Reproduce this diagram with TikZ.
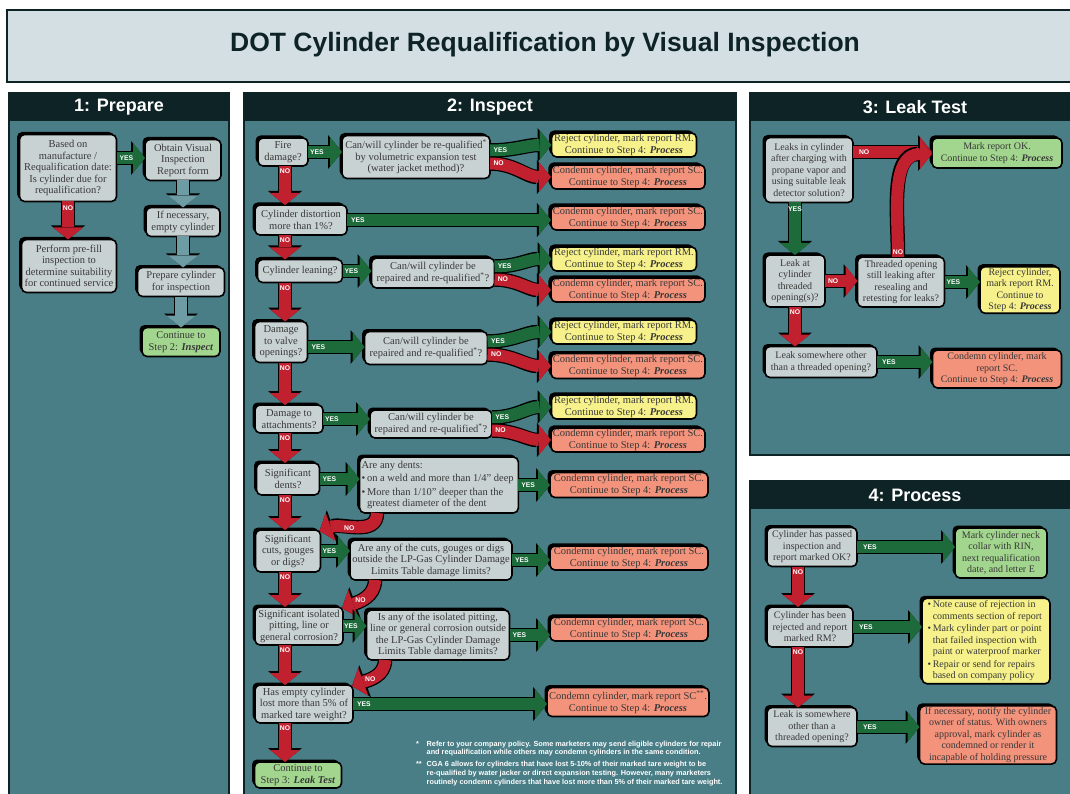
\documentclass[tikz,border=0pt]{standalone}
\usepackage{fontspec}
\setmainfont{Liberation Serif}
\setsansfont{Liberation Sans}
\usepackage{tikz}
\usetikzlibrary{calc,arrows.meta,shadows}

\definecolor{panelteal}{HTML}{4A7E87}
\definecolor{headdark}{HTML}{0E2325}
\definecolor{titlefill}{HTML}{D3DFE3}
\definecolor{qgray}{HTML}{C9D2D2}
\definecolor{rejyellow}{HTML}{F6F18A}
\definecolor{consalmon}{HTML}{F4937C}
\definecolor{okgreen}{HTML}{A2D68E}
\definecolor{yesgreen}{HTML}{1D6B3B}
\definecolor{nored}{HTML}{C1202F}
\definecolor{stepblue}{HTML}{6E9CA5}
\definecolor{boxtext}{HTML}{383838}

\begin{document}
\begin{tikzpicture}[x=1pt,y=-1pt,inner sep=0pt,outer sep=0pt,
    box/.style={draw=black,line width=1.6pt,rounded corners=5pt,align=center,
        inner xsep=2pt,inner ysep=1.5pt,text=boxtext,
        font=\fontsize{10.5}{11.5}\selectfont,
        general shadow={fill=black,shadow xshift=-2.5pt,shadow yshift=2.5pt}},
    smalltxt/.style={font=\fontsize{10}{11.5}\selectfont},
    qbox/.style={box,fill=qgray},
    rejbox/.style={box,fill=rejyellow},
    conbox/.style={box,fill=consalmon},
    okbox/.style={box,fill=okgreen},
    blockarr/.style={line width=12pt,-{Triangle[length=12pt,width=30pt,line width=0pt]},
        preaction={draw=black,line width=14.5pt,-{Triangle[length=14pt,width=34pt,line width=0pt]}}},
    yesarr/.style={blockarr,draw=yesgreen},
    noarr/.style={blockarr,draw=nored},
    steparr/.style={blockarr,draw=stepblue},
    lbl/.style={font=\sffamily\bfseries\fontsize{6.8}{7}\selectfont,text=white},
    panel/.style={fill=panelteal,draw=headdark,line width=1.5pt},
    panelhead/.style={fill=headdark},
    headtxt/.style={font=\sffamily\bfseries\fontsize{18}{20}\selectfont,text=white}]

    \useasboundingbox (0,0) rectangle (1070,794);
    \fill[white] (0,0) rectangle (1070,794);

    % title
    \draw[fill=titlefill,draw=headdark,line width=2pt] (7,10) rectangle (1080,82);
    \node[font=\sffamily\bfseries\fontsize{26.5}{28}\selectfont,text=headdark] (title) at (545,45)
    {DOT Cylinder Requalification by Visual Inspection};

    % panels
    \draw[panel] (9,93) rectangle (229,800);
    \fill[panelhead] (9,93) rectangle (229,121);
    \node[headtxt] (prep_head) at (119,107) {1: Prepare};

    \draw[panel] (244,93) rectangle (736,800);
    \fill[panelhead] (244,93) rectangle (736,121);
    \node[headtxt] (insp_head) at (490,107) {2: Inspect};

    \draw[panel] (750,93) rectangle (1080,455);
    \fill[panelhead] (750,93) rectangle (1080,121);
    \node[headtxt] (leak_head) at (915,107) {3: Leak Test};

    \draw[panel] (750,481) rectangle (1080,800);
    \fill[panelhead] (750,481) rectangle (1080,509);
    \node[headtxt] (proc_head) at (915,495) {4: Process};

    % 1: prepare
    \node[qbox,minimum width=97pt,minimum height=67pt] (prep_due) at (68,168)
    {Based on\\manufacture /\\Requalification date:\\Is cylinder due for\\requalification?};
    \node[qbox,minimum width=95pt,minimum height=53pt] (prep_prefill) at (69,266)
    {Perform pre-fill\\inspection to\\determine suitability\\for continued service};
    \node[qbox,minimum width=76pt,minimum height=41pt] (prep_form) at (183,160)
    {Obtain Visual\\Inspection\\Report form};
    \node[qbox,minimum width=74pt,minimum height=29pt] (prep_empty) at (183,222)
    {If necessary,\\empty cylinder};
    \node[qbox,minimum width=87pt,minimum height=29pt] (prep_ready) at (181,282)
    {Prepare cylinder\\for inspection};
    \node[okbox,minimum width=78pt,minimum height=29pt] (prep_next) at (181,342)
    {Continue to\\Step 2: \textbf{\textit{Inspect}}};

    \draw[yesarr] ([yshift=10pt]prep_due.east) -- node[lbl,pos=0,anchor=west,xshift=3pt]{YES}
        ([yshift=10pt]prep_due.east -| prep_form.west);
    \draw[noarr] (prep_due.south) -- node[lbl,pos=0,anchor=north,yshift=-4pt]{NO}
        (prep_due.south |- prep_prefill.north);
    \draw[steparr] (prep_form.south) -- (prep_form.south |- prep_empty.north);
    \draw[steparr] (prep_empty.south) -- (prep_empty.south |- prep_ready.north);
    \draw[steparr] (prep_ready.south) -- (prep_ready.south |- prep_next.north);

    % 2: inspect
    \coordinate (insp_col) at (285,0);
    \node[qbox,minimum width=50pt,minimum height=28pt] (insp_fire) at (283,152) {Fire\\damage?};
    \node[qbox,minimum width=148pt,minimum height=43pt] (insp_fire_q) at (416,157)
    {Can/will cylinder be re-qualified\textsuperscript{*}\\by volumetric expansion test\\(water jacket method)?};
    \node[rejbox,minimum width=145pt,minimum height=24pt] (insp_fire_rej) at (624,145)
    {Reject cylinder, mark report RM.\\Continue to Step 4: \textbf{\textit{Process}}};
    \node[conbox,minimum width=153pt,minimum height=23pt] (insp_fire_con) at (628,177)
    {Condemn cylinder, mark report SC.\\Continue to Step 4: \textbf{\textit{Process}}};

    \node[qbox,minimum width=92pt,minimum height=30pt] (insp_dist) at (301,220)
    {Cylinder distortion\\more than 1\%?};
    \node[conbox,minimum width=153pt,minimum height=23pt] (insp_dist_con) at (628,218)
    {Condemn cylinder, mark report SC.\\Continue to Step 4: \textbf{\textit{Process}}};

    \node[qbox,minimum width=85pt,minimum height=23pt] (insp_lean) at (300,271) {Cylinder leaning?};
    \node[qbox,minimum width=123pt,minimum height=30pt] (insp_lean_q) at (433,273)
    {Can/will cylinder be\\repaired and re-qualified\textsuperscript{*}?};
    \node[rejbox,minimum width=145pt,minimum height=24pt] (insp_lean_rej) at (624,259)
    {Reject cylinder, mark report RM.\\Continue to Step 4: \textbf{\textit{Process}}};
    \node[conbox,minimum width=153pt,minimum height=24pt] (insp_lean_con) at (628,290)
    {Condemn cylinder, mark report SC.\\Continue to Step 4: \textbf{\textit{Process}}};

    \node[qbox,minimum width=53pt,minimum height=41pt] (insp_valve) at (281,342)
    {Damage\\to valve\\openings?};
    \node[qbox,minimum width=123pt,minimum height=33pt] (insp_valve_q) at (426,348)
    {Can/will cylinder be\\repaired and re-qualified\textsuperscript{*}?};
    \node[rejbox,minimum width=145pt,minimum height=23pt] (insp_valve_rej) at (624,332)
    {Reject cylinder, mark report RM.\\Continue to Step 4: \textbf{\textit{Process}}};
    \node[conbox,minimum width=153pt,minimum height=25pt] (insp_valve_con) at (628,366)
    {Condemn cylinder, mark report SC.\\Continue to Step 4: \textbf{\textit{Process}}};

    \node[qbox,minimum width=68pt,minimum height=28pt] (insp_att) at (289,419)
    {Damage to\\attachments?};
    \node[qbox,minimum width=122pt,minimum height=28pt] (insp_att_q) at (431,424)
    {Can/will cylinder be\\repaired and re-qualified\textsuperscript{*}?};
    \node[rejbox,minimum width=145pt,minimum height=22pt] (insp_att_rej) at (624,407)
    {Reject cylinder, mark report RM.\\Continue to Step 4: \textbf{\textit{Process}}};
    \node[conbox,minimum width=153pt,minimum height=24pt] (insp_att_con) at (628,440)
    {Condemn cylinder, mark report SC.\\Continue to Step 4: \textbf{\textit{Process}}};

    \node[qbox,minimum width=63pt,minimum height=32pt] (insp_dent) at (288,479)
    {Significant\\dents?};
    \node[qbox,minimum width=158pt,minimum height=56pt] (insp_dent_q) at (439,485)
    {
    \begin{tabular}{@{}l@{\,}l@{}}
    \multicolumn{2}{@{}l@{}}{Are any dents:}\\[2pt]
    \textbullet & on a weld and more than 1/4'' deep\\[2pt]
    \textbullet & More than 1/10'' deeper than the\\
    & greatest diameter of the dent
    \end{tabular}
    };
    \node[conbox,minimum width=158pt,minimum height=25pt] (insp_dent_con) at (629,485)
    {Condemn cylinder, mark report SC.\\Continue to Step 4: \textbf{\textit{Process}}};

    \node[qbox,minimum width=65pt,minimum height=42pt] (insp_cut) at (288,551)
    {Significant\\cuts, gouges\\or digs?};
    \node[qbox,minimum width=162pt,minimum height=40pt] (insp_cut_q) at (431,560)
    {Are any of the cuts, gouges or digs\\outside the LP-Gas Cylinder Damage\\Limits Table damage limits?};
    \node[conbox,minimum width=158pt,minimum height=23pt] (insp_cut_con) at (629,558)
    {Condemn cylinder, mark report SC.\\Continue to Step 4: \textbf{\textit{Process}}};

    \node[qbox,minimum width=88pt,minimum height=38pt] (insp_pit) at (299,626)
    {Significant isolated\\pitting, line or\\general corrosion?};
    \node[qbox,minimum width=143pt,minimum height=50pt] (insp_pit_q) at (438,635)
    {Is any of the isolated pitting,\\line or general corrosion outside\\the LP-Gas Cylinder Damage\\Limits Table damage limits?};
    \node[conbox,minimum width=158pt,minimum height=23pt] (insp_pit_con) at (629,629)
    {Condemn cylinder, mark report SC.\\Continue to Step 4: \textbf{\textit{Process}}};

    \node[qbox,minimum width=98pt,minimum height=38pt] (insp_tare) at (304,704)
    {Has empty cylinder\\lost more than 5\% of\\marked tare weight?};
    \node[conbox,minimum width=160pt,minimum height=29pt] (insp_tare_con) at (628,702)
    {Condemn cylinder, mark report SC\textsuperscript{**}.\\Continue to Step 4: \textbf{\textit{Process}}};

    \node[okbox,minimum width=87pt,minimum height=26pt] (insp_next) at (298,775)
    {Continue to\\Step 3: \textbf{\textit{Leak Test}}};

    % footnotes
    \node[anchor=north west,font=\sffamily\bfseries\fontsize{7.3}{8.8}\selectfont,text=white] (insp_notes) at (414,740)
    {
    \setlength{\tabcolsep}{0pt}
    \begin{tabular}{l@{\hspace{5pt}}l}
    * & Refer to your company policy. Some marketers may send eligible cylinders for repair\\
      & and requalification while others may condemn cylinders in the same condition.\\[3pt]
    ** & CGA 6 allows for cylinders that have lost 5-10\% of their marked tare weight to be\\
      & re-qualified by water jacker or direct expansion testing. However, many marketers\\
      & routinely condemn cylinders that have lost more than 5\% of their marked tare weight.
    \end{tabular}
    };

    \draw[yesarr] (insp_fire.east) -- node[lbl,pos=0,anchor=west,xshift=2pt]{YES} (insp_fire.east -| insp_fire_q.west);
    \draw[yesarr] ([yshift=6.5pt]insp_fire_q.east) to[out=0,in=180] node[lbl,pos=0.05,anchor=west]{YES} (insp_fire_rej.west);
    \draw[noarr] ([yshift=-6.5pt]insp_fire_q.east) to[out=0,in=180] node[lbl,pos=0.05,anchor=west]{NO} (insp_fire_con.west);
    \draw[noarr] (insp_fire.south -| insp_col) -- node[lbl,pos=0,anchor=north,yshift=-3pt]{NO} (insp_dist.north -| insp_col);

    \draw[yesarr] (insp_dist.east) -- node[lbl,pos=0,anchor=west,xshift=4pt]{YES} (insp_dist.east -| insp_dist_con.west);
    \draw[noarr] (insp_dist.south -| insp_col) -- node[lbl,pos=0,anchor=north,yshift=-3pt]{NO} (insp_lean.north -| insp_col);

    \draw[yesarr] (insp_lean.east) -- node[lbl,pos=0,anchor=west,xshift=2pt]{YES} (insp_lean.east -| insp_lean_q.west);
    \draw[yesarr] ([yshift=6.5pt]insp_lean_q.east) to[out=0,in=180] node[lbl,pos=0.05,anchor=west]{YES} (insp_lean_rej.west);
    \draw[noarr] ([yshift=-6.5pt]insp_lean_q.east) to[out=0,in=180] node[lbl,pos=0.05,anchor=west]{NO} (insp_lean_con.west);
    \draw[noarr] (insp_lean.south -| insp_col) -- node[lbl,pos=0,anchor=north,yshift=-3pt]{NO} (insp_valve.north -| insp_col);

    \draw[yesarr] ([yshift=-5pt]insp_valve.east) -- node[lbl,pos=0,anchor=west,xshift=4pt]{YES} ([yshift=-5pt]insp_valve.east -| insp_valve_q.west);
    \draw[yesarr] ([yshift=6.5pt]insp_valve_q.east) to[out=0,in=180] node[lbl,pos=0.05,anchor=west]{YES} (insp_valve_rej.west);
    \draw[noarr] ([yshift=-6.5pt]insp_valve_q.east) to[out=0,in=180] node[lbl,pos=0.05,anchor=west]{NO} (insp_valve_con.west);
    \draw[noarr] (insp_valve.south -| insp_col) -- node[lbl,pos=0,anchor=north,yshift=-3pt]{NO} (insp_att.north -| insp_col);

    \draw[yesarr] (insp_att.east) -- node[lbl,pos=0,anchor=west,xshift=2pt]{YES} (insp_att.east -| insp_att_q.west);
    \draw[yesarr] ([yshift=6.5pt]insp_att_q.east) to[out=0,in=180] node[lbl,pos=0.05,anchor=west]{YES} (insp_att_rej.west);
    \draw[noarr] ([yshift=-6.5pt]insp_att_q.east) to[out=0,in=180] node[lbl,pos=0.05,anchor=west]{NO} (insp_att_con.west);
    \draw[noarr] (insp_att.south -| insp_col) -- node[lbl,pos=0,anchor=north,yshift=-3pt]{NO} (insp_dent.north -| insp_col);

    \draw[yesarr] (insp_dent.east) -- node[lbl,pos=0,anchor=west,xshift=3pt]{YES} (insp_dent.east -| insp_dent_q.west);
    \draw[yesarr] (insp_dent_q.east) -- node[lbl,pos=0,anchor=west,xshift=3pt]{YES} (insp_dent_q.east -| insp_dent_con.west);
    \draw[noarr] (insp_dent.south -| insp_col) -- node[lbl,pos=0,anchor=north,yshift=-3pt]{NO} (insp_cut.north -| insp_col);
    \draw[noarr] ([xshift=-62pt]insp_dent_q.south) to[out=-90,in=20] node[lbl,pos=0.6]{NO} ([xshift=-1pt,yshift=-1pt]insp_cut.north east);

    \draw[yesarr] (insp_cut.east) -- node[lbl,pos=0,anchor=west,xshift=2pt]{YES} (insp_cut.east -| insp_cut_q.west);
    \draw[yesarr] (insp_cut_q.east) -- node[lbl,pos=0,anchor=west,xshift=3pt]{YES} (insp_cut_q.east -| insp_cut_con.west);
    \draw[noarr] (insp_cut.south -| insp_col) -- node[lbl,pos=0,anchor=north,yshift=-3pt]{NO} (insp_pit.north -| insp_col);
    \draw[noarr] ([xshift=-56pt]insp_cut_q.south) to[out=-90,in=20] node[lbl,pos=0.6]{NO} ([xshift=-1pt,yshift=-1pt]insp_pit.north east);

    \draw[yesarr] (insp_pit.east) -- node[lbl,pos=0,anchor=west,xshift=1pt]{YES} (insp_pit.east -| insp_pit_q.west);
    \draw[yesarr] (insp_pit_q.east) -- node[lbl,pos=0,anchor=west,xshift=3pt]{YES} (insp_pit_q.east -| insp_pit_con.west);
    \draw[noarr] (insp_pit.south -| insp_col) -- node[lbl,pos=0,anchor=north,yshift=-3pt]{NO} (insp_tare.north -| insp_col);
    \draw[noarr] ([xshift=-53pt]insp_pit_q.south) to[out=-90,in=20] node[lbl,pos=0.6]{NO} ([xshift=-1pt,yshift=-1pt]insp_tare.north east);

    \draw[yesarr] (insp_tare.east) -- node[lbl,pos=0,anchor=west,xshift=4pt]{YES} (insp_tare.east -| insp_tare_con.west);
    \draw[noarr] (insp_tare.south -| insp_col) -- node[lbl,pos=0,anchor=north,yshift=-3pt]{NO} (insp_next.north -| insp_col);

    % 3: leak test
    \coordinate (leak_col) at (795,0);
    \node[qbox,smalltxt,minimum width=88pt,minimum height=65pt] (leak_chg) at (809,170)
    {Leaks in cylinder\\after charging with\\propane vapor and\\using suitable leak\\detector solution?};
    \node[okbox,smalltxt,minimum width=130pt,minimum height=30pt] (leak_ok) at (997,153)
    {Mark report OK.\\Continue to Step 4: \textbf{\textit{Process}}};
    \node[qbox,smalltxt,minimum width=60pt,minimum height=52pt] (leak_thr) at (795,281)
    {Leak at\\cylinder\\threaded\\opening(s)?};
    \node[qbox,smalltxt,minimum width=87pt,minimum height=50pt] (leak_still) at (901,282)
    {Threaded opening\\still leaking after\\resealing and\\retesting for leaks?};
    \node[rejbox,smalltxt,minimum width=80pt,minimum height=46pt] (leak_rej) at (1020,290)
    {Reject cylinder,\\mark report RM.\\Continue to\\Step 4: \textbf{\textit{Process}}};
    \node[qbox,smalltxt,minimum width=112pt,minimum height=31pt] (leak_other) at (821,362)
    {Leak somewhere other\\than a threaded opening?};
    \node[conbox,smalltxt,minimum width=129pt,minimum height=38pt] (leak_con) at (997,369)
    {Condemn cylinder, mark\\report SC.\\Continue to Step 4: \textbf{\textit{Process}}};

    \draw[noarr] ([yshift=18pt]leak_chg.east) -- node[lbl,pos=0,anchor=west,xshift=6pt]{NO} ([yshift=18pt]leak_chg.east -| leak_ok.west);
    \draw[noarr] ([xshift=-3pt]leak_still.north) to[out=90,in=180] node[lbl,pos=0,anchor=south,yshift=2pt]{NO} ([yshift=-1pt]leak_ok.west);
    \draw[yesarr] (leak_chg.south -| leak_col) -- node[lbl,pos=0,anchor=north,yshift=-4pt]{YES} (leak_thr.north -| leak_col);
    \draw[noarr] (leak_thr.east) -- node[lbl,pos=0,anchor=west,xshift=3pt]{NO} (leak_thr.east -| leak_still.west);
    \draw[yesarr] (leak_still.east) -- node[lbl,pos=0,anchor=west,xshift=2pt]{YES} (leak_still.east -| leak_rej.west);
    \draw[noarr] (leak_thr.south -| leak_col) -- node[lbl,pos=0,anchor=north,yshift=-3pt]{NO} (leak_other.north -| leak_col);
    \draw[yesarr] (leak_other.east) -- node[lbl,pos=0,anchor=west,xshift=5pt]{YES} (leak_other.east -| leak_con.west);

    % 4: process
    \coordinate (proc_col) at (798,0);
    \node[qbox,smalltxt,minimum width=90pt,minimum height=39pt] (proc_ok) at (812,547)
    {Cylinder has passed\\inspection and\\report marked OK?};
    \node[okbox,smalltxt,minimum width=92pt,minimum height=50pt] (proc_mark) at (1001,553)
    {Mark cylinder neck\\collar with RIN,\\next requalification\\date, and letter E};
    \node[qbox,smalltxt,minimum width=86pt,minimum height=40pt] (proc_rm) at (810,627)
    {Cylinder has been\\rejected and report\\marked RM?};
    \node[rejbox,smalltxt,minimum width=128pt,minimum height=83pt] (proc_list) at (986,641)
    {
    \begin{tabular}{@{}l@{\,}l@{}}
    \textbullet & Note cause of rejection in\\
    & comments section of report\\[1pt]
    \textbullet & Mark cylinder part or point\\
    & that failed inspection with\\
    & paint or waterproof marker\\[1pt]
    \textbullet & Repair or send for repairs\\
    & based on company policy
    \end{tabular}
    };
    \node[qbox,smalltxt,minimum width=90pt,minimum height=39pt] (proc_leak) at (812,727)
    {Leak is somewhere\\other than a\\threaded opening?};
    \node[conbox,smalltxt,minimum width=137pt,minimum height=55pt] (proc_notify) at (988,735)
    {If necessary, notify the cylinder\\owner of status. With owners\\approval, mark cylinder as\\condemned or render it\\incapable of holding pressure};

    \draw[yesarr] (proc_ok.east) -- node[lbl,pos=0,anchor=west,xshift=6pt]{YES} (proc_ok.east -| proc_mark.west);
    \draw[noarr] (proc_ok.south -| proc_col) -- node[lbl,pos=0,anchor=north,yshift=-3pt]{NO} (proc_rm.north -| proc_col);
    \draw[yesarr] (proc_rm.east) -- node[lbl,pos=0,anchor=west,xshift=6pt]{YES} (proc_rm.east -| proc_list.west);
    \draw[noarr] (proc_rm.south -| proc_col) -- node[lbl,pos=0,anchor=north,yshift=-3pt]{NO} (proc_leak.north -| proc_col);
    \draw[yesarr] (proc_leak.east) -- node[lbl,pos=0,anchor=west,xshift=6pt]{YES} (proc_leak.east -| proc_notify.west);

\end{tikzpicture}
\end{document}
